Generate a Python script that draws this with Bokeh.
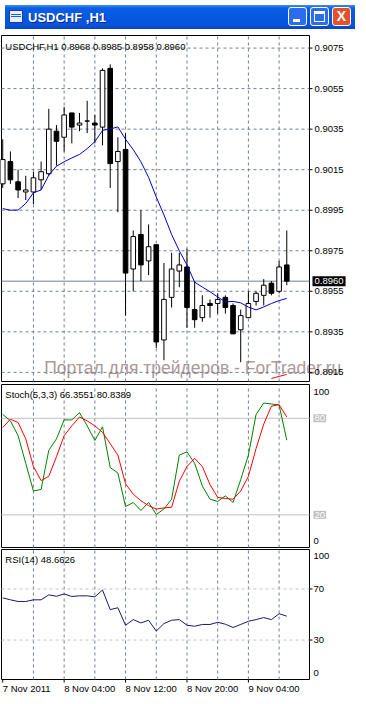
from bokeh.plotting import figure
from bokeh.models import ColumnDataSource, Range1d, Div
from bokeh.core.properties import value
from bokeh.layouts import column
from bokeh.embed import file_html
from bokeh.resources import INLINE

# ---------------- data ----------------
bars = list(range(38))
opens = [0.9008, 0.9019, 0.9009, 0.9004, 0.9004, 0.9010, 0.9013, 0.9034, 0.9031, 0.9043,
         0.9037, 0.9039, 0.9038, 0.9036, 0.9065, 0.9019, 0.9025, 0.8966, 0.8983, 0.8970,
         0.8978, 0.8931, 0.8952, 0.8965, 0.8967, 0.8946, 0.8942, 0.8949, 0.8949, 0.8952,
         0.8948, 0.8936, 0.8942, 0.8950, 0.8953, 0.8959, 0.8955, 0.8968]
highs = [0.9030, 0.9024, 0.9015, 0.9012, 0.9014, 0.9019, 0.9045, 0.9037, 0.9046, 0.9043,
         0.9043, 0.9049, 0.9042, 0.9065, 0.9067, 0.9031, 0.9033, 0.8985, 0.8995, 0.8988,
         0.8978, 0.8969, 0.8974, 0.8974, 0.8976, 0.8960, 0.8953, 0.8951, 0.8954, 0.8953,
         0.8949, 0.8946, 0.8955, 0.8955, 0.8961, 0.8960, 0.8970, 0.8985]
lows = [0.9006, 0.9008, 0.9001, 0.9000, 0.8998, 0.9005, 0.9012, 0.9017, 0.9024, 0.9028,
        0.9034, 0.9033, 0.9028, 0.9027, 0.9006, 0.8994, 0.8943, 0.8955, 0.8960, 0.8963,
        0.8927, 0.8921, 0.8947, 0.8957, 0.8937, 0.8937, 0.8940, 0.8942, 0.8944, 0.8944,
        0.8934, 0.8920, 0.8942, 0.8948, 0.8948, 0.8953, 0.8954, 0.8958]
closes = [0.9020, 0.9010, 0.9005, 0.9005, 0.9011, 0.9014, 0.9035, 0.9029, 0.9042, 0.9036,
          0.9038, 0.9039, 0.9037, 0.9064, 0.9018, 0.9024, 0.8964, 0.8982, 0.8968, 0.8977,
          0.8930, 0.8951, 0.8966, 0.8968, 0.8947, 0.8941, 0.8948, 0.8948, 0.8951, 0.8947,
          0.8934, 0.8943, 0.8949, 0.8954, 0.8958, 0.8954, 0.8967, 0.8960]
ma = [0.89958, 0.89950, 0.89951, 0.89983, 0.90036, 0.90050, 0.90123, 0.90167, 0.90189, 0.90208,
      0.90225, 0.90254, 0.90288, 0.90344, 0.90351, 0.90361, 0.90300, 0.90249, 0.90189, 0.90112,
      0.90015, 0.89927, 0.89830, 0.89750, 0.89680, 0.89595, 0.89571, 0.89548, 0.89522, 0.89498,
      0.89500, 0.89493, 0.89472, 0.89458, 0.89473, 0.89490, 0.89504, 0.89515]
red_bars = [35, 36, 37]
red_vals = [0.8912, 0.8913, 0.8914]
stoch_k = [82.4, 78.4, 69.2, 52.0, 34.8, 35.8, 60.1, 67.2, 79.0, 79.0,
           83.5, 75.3, 66.2, 74.7, 49.4, 46.0, 25.1, 27.7, 22.7, 27.7,
           20.2, 23.6, 29.7, 57.1, 59.1, 52.0, 37.9, 29.7, 28.3, 31.8,
           27.7, 41.9, 57.1, 82.4, 89.5, 88.9, 88.3, 66.4]
stoch_d = [74.3, 79.4, 77.4, 67.2, 50.0, 41.3, 43.9, 56.1, 69.2, 75.3,
           80.8, 78.4, 75.3, 71.3, 64.2, 57.1, 39.3, 32.8, 28.8, 25.7,
           23.6, 24.3, 24.7, 40.9, 50.0, 55.1, 50.0, 38.8, 30.8, 30.2,
           29.7, 34.8, 43.9, 61.2, 76.4, 87.5, 88.5, 80.8]
rsi = [63.0, 61.5, 60.2, 60.2, 61.5, 61.5, 65.4, 64.3, 66.1, 64.1,
       64.6, 64.6, 63.8, 69.2, 53.8, 55.3, 41.6, 46.0, 43.4, 45.5,
       37.0, 42.9, 45.5, 46.0, 41.6, 40.8, 42.2, 42.2, 43.9, 42.4,
       39.8, 42.2, 44.7, 46.0, 47.6, 46.0, 50.6, 48.7]

price_ticks = [0.9075, 0.9055, 0.9035, 0.9015, 0.8995, 0.8975, 0.8955, 0.8935, 0.8915]
grid_bars = [4, 8, 12, 16, 20, 24, 28, 32, 36]
date_ticks = [0, 8, 16, 24, 32]
date_labels = ["7 Nov 2011", "8 Nov 04:00", "8 Nov 12:00", "8 Nov 20:00", "9 Nov 04:00"]
stoch_scale_pos = [96.6, 3.8]
stoch_scale_txt = ["100", "0"]
stoch_levels = [80, 20]
rsi_scale_pos = [96.2, 4.2]
rsi_scale_txt = ["100", "0"]
rsi_levels = [70, 30]
last_price = 0.8960
main_header = "USDCHF,H1  0.8968 0.8985 0.8958 0.8960"
stoch_header = "Stoch(5,3,3) 66.3551 80.8389"
rsi_header = "RSI(14) 48.6626"
watermark = "Портал для трейдеров - ForTrader.ru"

# ---------------- geometry / styling ----------------
FONT = "Liberation Sans"
FS = "9.5px"
GRID = "#708090"
X0, X1 = -0.16, 39.96          # bar units at the chart box edges
BOX_W = 308                    # px width of the chart box
FIG_W = 350
PPB = BOX_W / (X1 - X0)        # px per bar
XR0 = X0 - 1 / PPB
XR1 = XR0 + FIG_W / PPB


def hx(n):
    return n / PPB


def txt(p, xs, ys, texts, color="black", align="left", baseline="middle", size=FS, **kw):
    p.text(x=xs, y=ys, text=texts, text_font=value(FONT), text_font_size=value(size),
           text_color=color, text_align=align, text_baseline=baseline, **kw)


def make_fig(height, box_top, box_bot, v_top, v_bot, background_text=None):
    upp = (v_top - v_bot) / (box_bot - box_top)
    y_hi = v_top + box_top * upp
    y_lo = v_bot - (height - box_bot) * upp
    p = figure(frame_width=FIG_W, frame_height=height,
               x_range=Range1d(XR0, XR1), y_range=Range1d(y_lo, y_hi),
               output_backend="svg", toolbar_location=None,
               x_axis_location=None, y_axis_location=None, min_border=0)
    p.outline_line_color = None
    p.grid.visible = False
    p.background_fill_color = "white"
    p.border_fill_color = "white"
    if background_text is not None:
        background_text(p)
    # panel box
    p.quad(left=[X0], right=[X1], bottom=[v_bot], top=[v_top],
           fill_color=None, line_color="black", line_width=1)
    # vertical dashed grid
    n = len(grid_bars)
    p.segment(x0=grid_bars, y0=[v_bot] * n, x1=grid_bars, y1=[v_top] * n,
              line_color=GRID, line_dash="3 3", line_width=1)
    return p, upp


def draw_watermark(p):
    txt(p, [5.4], [0.89171], [watermark], color="#ab9a9a", baseline="alphabetic", size="17.5px")


# ---------------- main price panel ----------------
P_TOP, P_BOT = 0.90812, 0.89105
pm, upm = make_fig(348, 1, 347, P_TOP, P_BOT, background_text=draw_watermark)
nt = len(price_ticks)
pm.segment(x0=[X0] * nt, y0=price_ticks, x1=[X1] * nt, y1=price_ticks,
           line_color=GRID, line_dash="3 3", line_width=1)
pm.segment(x0=[X0], y0=[last_price], x1=[X1], y1=[last_price], line_color=GRID, line_width=1)

bull = [i for i in bars if closes[i] >= opens[i]]
bear = [i for i in bars if closes[i] < opens[i]]
src_all = ColumnDataSource(dict(x=bars, h=highs, l=lows))
pm.segment(x0="x", y0="l", x1="x", y1="h", source=src_all, line_color="black", line_width=1)
src_bull = ColumnDataSource(dict(x=bull, top=[closes[i] for i in bull], bottom=[opens[i] for i in bull]))
src_bear = ColumnDataSource(dict(x=bear, top=[opens[i] for i in bear], bottom=[closes[i] for i in bear]))
pm.vbar(x="x", top="top", bottom="bottom", width=0.6, source=src_bull,
        fill_color="white", line_color="black", line_width=1)
pm.vbar(x="x", top="top", bottom="bottom", width=0.6, source=src_bear,
        fill_color="black", line_color="black", line_width=1)
pm.line(bars, ma, line_color="#0000cc", line_width=1)
pm.line(red_bars, red_vals, line_color="#ff0000", line_width=1)

# right price scale
pm.segment(x0=[X1] * nt, y0=price_ticks, x1=[X1 + hx(3)] * nt, y1=price_ticks,
           line_color="black", line_width=1)
txt(pm, [X1 + hx(5)] * nt, price_ticks, ["%.4f" % t for t in price_ticks])
txt(pm, [X1 + hx(3)], [last_price], ["%.4f" % last_price], color="white",
    background_fill_color="black", padding=2)

txt(pm, [0.34], [P_TOP - 5 * upm], [main_header], baseline="top")

# ---------------- stochastic panel ----------------
ps, ups = make_fig(166, 2, 165, 101.0, -0.3)
nl = len(stoch_levels)
ps.segment(x0=[X0] * nl, y0=stoch_levels, x1=[X1] * nl, y1=stoch_levels,
           line_color="#c0c0c0", line_width=1)
ps.line(bars, stoch_k, line_color="#008000", line_width=1)
ps.line(bars, stoch_d, line_color="#ff0000", line_width=1)
txt(ps, [0.34], [101.0 - 4 * ups], [stoch_header], baseline="top")
txt(ps, [X1 + hx(4)] * 2, stoch_scale_pos, stoch_scale_txt)
txt(ps, [X1 + hx(4)] * nl, stoch_levels, [str(v) for v in stoch_levels], color="white",
    background_fill_color="#c0c0c0", padding=1)

# ---------------- RSI panel ----------------
pr, upr = make_fig(148, 1, 131, 100.9, -0.9)
nr = len(rsi_levels)
pr.segment(x0=[X0] * nr, y0=rsi_levels, x1=[X1] * nr, y1=rsi_levels,
           line_color="#c0c0c0", line_width=1, line_dash="3 3")
pr.line(bars, rsi, line_color="#191970", line_width=1)
txt(pr, [0.34], [100.9 - 4 * upr], [rsi_header], baseline="top")
pr.segment(x0=[X1] * nr, y0=rsi_levels, x1=[X1 + hx(3)] * nr, y1=rsi_levels,
           line_color="black", line_width=1)
txt(pr, [X1 + hx(4)] * nr, rsi_levels, [str(v) for v in rsi_levels])
txt(pr, [X1 + hx(4)] * 2, rsi_scale_pos, rsi_scale_txt)
nd = len(date_ticks)
pr.segment(x0=date_ticks, y0=[-0.9] * nd, x1=date_ticks, y1=[-0.9 - 3 * upr] * nd,
           line_color="black", line_width=1)
txt(pr, date_ticks, [-0.9 - 3 * upr] * nd, date_labels, baseline="top")

# ---------------- window title bar ----------------
btn = ("position:absolute;top:2px;width:19px;height:19px;border:1px solid #fff;"
       "border-radius:3px;box-sizing:border-box;")
title_html = (
    '<div style="position:relative;width:350px;height:24px;overflow:hidden;'
    'background:linear-gradient(to bottom,#3f8cf3 0%,#0a5fe6 14%,#0558e2 50%,#0653dc 85%,#0a44b8 100%);'
    "font-family:'Liberation Sans',sans-serif;\">"
    '<div style="position:absolute;left:4px;top:5px;width:14px;height:13px;background:#e8eef8;'
    'border:1px solid #17409a;box-sizing:border-box;"></div>'
    '<div style="position:absolute;left:6px;top:9px;width:10px;height:3px;border-top:1px solid #1f5fd0;'
    'border-bottom:1px solid #1f5fd0;"></div>'
    '<div style="position:absolute;left:23px;top:4px;color:#fff;font-weight:bold;font-size:13px;'
    'text-shadow:1px 1px 0 #0b2a86;">USDCHF ,H1</div>'
    '<div style="' + btn + 'left:283px;background:#2c6df0;">'
    '<div style="position:absolute;left:4px;top:11px;width:7px;height:3px;background:#fff;"></div></div>'
    '<div style="' + btn + 'left:305px;background:#2c6df0;">'
    '<div style="position:absolute;left:3px;top:3px;width:11px;height:11px;border:1px solid #fff;'
    'border-top:3px solid #fff;box-sizing:border-box;"></div></div>'
    '<div style="' + btn + 'left:327px;background:#e2522b;color:#fff;font-weight:bold;'
    'font-size:14px;line-height:17px;text-align:center;">X</div>'
    '</div>'
)
title_div = Div(text=title_html, width=350, height=24)
bottom_div = Div(text='<div style="width:350px;height:2px;background:#ece9d8;"></div>',
                 width=350, height=2)

layout = column(title_div, pm, ps, pr, bottom_div, spacing=0)
open("out.html", "w").write(file_html(layout, INLINE))
